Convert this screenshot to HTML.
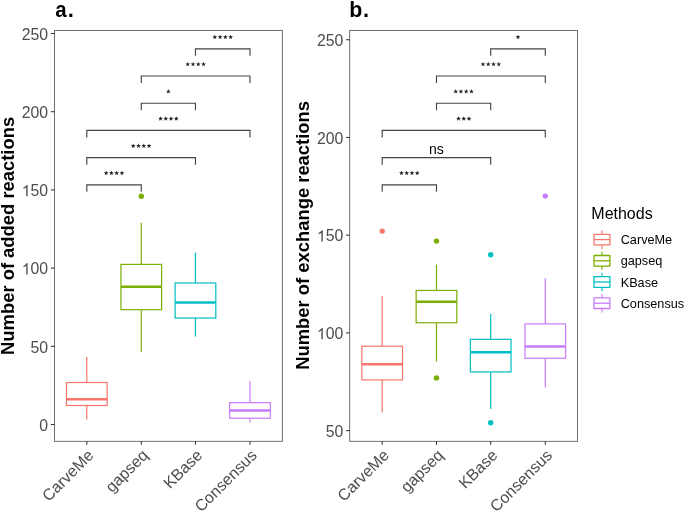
<!DOCTYPE html>
<html><head><meta charset="utf-8"><style>
html,body{margin:0;padding:0;background:#fff;}
svg{display:block;}
text{font-family:"Liberation Sans",sans-serif;}
</style></head><body>
<svg width="685" height="511" viewBox="0 0 685 511">
<rect width="685" height="511" fill="#fff"/>
<line x1="86.80" y1="357.0" x2="86.80" y2="382.5" stroke="#F8766D" stroke-width="1.2"/>
<line x1="86.80" y1="405.5" x2="86.80" y2="419.4" stroke="#F8766D" stroke-width="1.2"/>
<rect x="66.45" y="382.5" width="40.70" height="23.00" fill="#fff" stroke="#F8766D" stroke-width="1.2"/>
<line x1="66.45" y1="399.3" x2="107.15" y2="399.3" stroke="#F8766D" stroke-width="2.5"/>
<line x1="141.28" y1="222.8" x2="141.28" y2="264.4" stroke="#7CAE00" stroke-width="1.2"/>
<line x1="141.28" y1="309.7" x2="141.28" y2="352.2" stroke="#7CAE00" stroke-width="1.2"/>
<rect x="120.93" y="264.4" width="40.70" height="45.30" fill="#fff" stroke="#7CAE00" stroke-width="1.2"/>
<line x1="120.93" y1="286.7" x2="161.63" y2="286.7" stroke="#7CAE00" stroke-width="2.5"/>
<circle cx="141.28" cy="196.2" r="2.7" fill="#7CAE00"/>
<line x1="195.46" y1="252.7" x2="195.46" y2="283.0" stroke="#00BFC4" stroke-width="1.2"/>
<line x1="195.46" y1="318.05" x2="195.46" y2="336.6" stroke="#00BFC4" stroke-width="1.2"/>
<rect x="175.11" y="283.0" width="40.70" height="35.05" fill="#fff" stroke="#00BFC4" stroke-width="1.2"/>
<line x1="175.11" y1="302.4" x2="215.81" y2="302.4" stroke="#00BFC4" stroke-width="2.5"/>
<line x1="249.99" y1="381.2" x2="249.99" y2="402.7" stroke="#C77CFF" stroke-width="1.2"/>
<line x1="249.99" y1="418.2" x2="249.99" y2="422.5" stroke="#C77CFF" stroke-width="1.2"/>
<rect x="229.64" y="402.7" width="40.70" height="15.50" fill="#fff" stroke="#C77CFF" stroke-width="1.2"/>
<line x1="229.64" y1="410.4" x2="270.34" y2="410.4" stroke="#C77CFF" stroke-width="2.5"/>
<path d="M195.46,55.85 V48.8 H249.99 V55.85" fill="none" stroke="#444" stroke-width="1.15"/>
<polygon points="214.84,34.60 215.45,36.25 217.21,36.33 215.83,37.42 216.30,39.12 214.84,38.15 213.37,39.12 213.84,37.42 212.46,36.33 214.22,36.25" fill="#222" stroke-linejoin="round"/>
<polygon points="220.10,34.60 220.71,36.25 222.47,36.33 221.09,37.42 221.56,39.12 220.10,38.15 218.63,39.12 219.10,37.42 217.72,36.33 219.48,36.25" fill="#222" stroke-linejoin="round"/>
<polygon points="225.36,34.60 225.97,36.25 227.73,36.33 226.35,37.42 226.82,39.12 225.36,38.15 223.89,39.12 224.36,37.42 222.98,36.33 224.74,36.25" fill="#222" stroke-linejoin="round"/>
<polygon points="230.62,34.60 231.23,36.25 232.99,36.33 231.61,37.42 232.08,39.12 230.62,38.15 229.15,39.12 229.62,37.42 228.24,36.33 230.00,36.25" fill="#222" stroke-linejoin="round"/>
<path d="M141.28,83.05 V76.0 H249.99 V83.05" fill="none" stroke="#444" stroke-width="1.15"/>
<polygon points="187.75,61.80 188.36,63.45 190.12,63.53 188.74,64.62 189.21,66.32 187.75,65.35 186.28,66.32 186.75,64.62 185.37,63.53 187.13,63.45" fill="#222" stroke-linejoin="round"/>
<polygon points="193.00,61.80 193.62,63.45 195.38,63.53 194.00,64.62 194.47,66.32 193.00,65.35 191.54,66.32 192.01,64.62 190.63,63.53 192.39,63.45" fill="#222" stroke-linejoin="round"/>
<polygon points="198.26,61.80 198.88,63.45 200.64,63.53 199.26,64.62 199.73,66.32 198.26,65.35 196.80,66.32 197.27,64.62 195.89,63.53 197.65,63.45" fill="#222" stroke-linejoin="round"/>
<polygon points="203.52,61.80 204.14,63.45 205.90,63.53 204.52,64.62 204.99,66.32 203.52,65.35 202.06,66.32 202.53,64.62 201.15,63.53 202.91,63.45" fill="#222" stroke-linejoin="round"/>
<path d="M141.28,110.25 V103.2 H195.46 V110.25" fill="none" stroke="#444" stroke-width="1.15"/>
<polygon points="168.37,89.00 168.99,90.65 170.75,90.73 169.37,91.82 169.84,93.52 168.37,92.55 166.90,93.52 167.37,91.82 165.99,90.73 167.75,90.65" fill="#222" stroke-linejoin="round"/>
<path d="M86.80,137.45 V130.4 H249.99 V137.45" fill="none" stroke="#444" stroke-width="1.15"/>
<polygon points="160.51,116.20 161.12,117.85 162.88,117.93 161.50,119.02 161.97,120.72 160.51,119.75 159.04,120.72 159.51,119.02 158.13,117.93 159.89,117.85" fill="#222" stroke-linejoin="round"/>
<polygon points="165.77,116.20 166.38,117.85 168.14,117.93 166.76,119.02 167.23,120.72 165.77,119.75 164.30,120.72 164.77,119.02 163.39,117.93 165.15,117.85" fill="#222" stroke-linejoin="round"/>
<polygon points="171.03,116.20 171.64,117.85 173.40,117.93 172.02,119.02 172.49,120.72 171.03,119.75 169.56,120.72 170.03,119.02 168.65,117.93 170.41,117.85" fill="#222" stroke-linejoin="round"/>
<polygon points="176.28,116.20 176.90,117.85 178.66,117.93 177.28,119.02 177.75,120.72 176.28,119.75 174.82,120.72 175.29,119.02 173.91,117.93 175.67,117.85" fill="#222" stroke-linejoin="round"/>
<path d="M86.80,164.65 V157.6 H195.46 V164.65" fill="none" stroke="#444" stroke-width="1.15"/>
<polygon points="133.24,143.40 133.86,145.05 135.62,145.13 134.24,146.22 134.71,147.92 133.24,146.95 131.77,147.92 132.24,146.22 130.86,145.13 132.62,145.05" fill="#222" stroke-linejoin="round"/>
<polygon points="138.50,143.40 139.12,145.05 140.88,145.13 139.50,146.22 139.97,147.92 138.50,146.95 137.03,147.92 137.50,146.22 136.12,145.13 137.88,145.05" fill="#222" stroke-linejoin="round"/>
<polygon points="143.76,143.40 144.38,145.05 146.14,145.13 144.76,146.22 145.23,147.92 143.76,146.95 142.29,147.92 142.76,146.22 141.38,145.13 143.14,145.05" fill="#222" stroke-linejoin="round"/>
<polygon points="149.02,143.40 149.64,145.05 151.40,145.13 150.02,146.22 150.49,147.92 149.02,146.95 147.55,147.92 148.02,146.22 146.64,145.13 148.40,145.05" fill="#222" stroke-linejoin="round"/>
<path d="M86.80,191.85 V184.8 H141.28 V191.85" fill="none" stroke="#444" stroke-width="1.15"/>
<polygon points="106.15,170.60 106.77,172.25 108.53,172.33 107.15,173.42 107.62,175.12 106.15,174.15 104.68,175.12 105.15,173.42 103.77,172.33 105.53,172.25" fill="#222" stroke-linejoin="round"/>
<polygon points="111.41,170.60 112.03,172.25 113.79,172.33 112.41,173.42 112.88,175.12 111.41,174.15 109.94,175.12 110.41,173.42 109.03,172.33 110.79,172.25" fill="#222" stroke-linejoin="round"/>
<polygon points="116.67,170.60 117.29,172.25 119.05,172.33 117.67,173.42 118.14,175.12 116.67,174.15 115.20,175.12 115.67,173.42 114.29,172.33 116.05,172.25" fill="#222" stroke-linejoin="round"/>
<polygon points="121.93,170.60 122.55,172.25 124.31,172.33 122.93,173.42 123.40,175.12 121.93,174.15 120.46,175.12 120.93,173.42 119.55,172.33 121.31,172.25" fill="#222" stroke-linejoin="round"/>
<rect x="54.5" y="30.5" width="227.90" height="410.85" fill="none" stroke="#707070" stroke-width="1"/>
<line x1="50.90" y1="33.5" x2="54.5" y2="33.5" stroke="#333" stroke-width="1.05"/>
<line x1="50.90" y1="111.7" x2="54.5" y2="111.7" stroke="#333" stroke-width="1.05"/>
<line x1="50.90" y1="189.9" x2="54.5" y2="189.9" stroke="#333" stroke-width="1.05"/>
<line x1="50.90" y1="268.1" x2="54.5" y2="268.1" stroke="#333" stroke-width="1.05"/>
<line x1="50.90" y1="346.3" x2="54.5" y2="346.3" stroke="#333" stroke-width="1.05"/>
<line x1="50.90" y1="424.5" x2="54.5" y2="424.5" stroke="#333" stroke-width="1.05"/>
<line x1="86.80" y1="441.35" x2="86.80" y2="444.75" stroke="#333" stroke-width="1.05"/>
<line x1="141.28" y1="441.35" x2="141.28" y2="444.75" stroke="#333" stroke-width="1.05"/>
<line x1="195.46" y1="441.35" x2="195.46" y2="444.75" stroke="#333" stroke-width="1.05"/>
<line x1="249.99" y1="441.35" x2="249.99" y2="444.75" stroke="#333" stroke-width="1.05"/>
<line x1="382.20" y1="296.1" x2="382.20" y2="346.2" stroke="#F8766D" stroke-width="1.2"/>
<line x1="382.20" y1="379.9" x2="382.20" y2="412.6" stroke="#F8766D" stroke-width="1.2"/>
<rect x="361.86" y="346.2" width="40.68" height="33.70" fill="#fff" stroke="#F8766D" stroke-width="1.2"/>
<line x1="361.86" y1="364.3" x2="402.54" y2="364.3" stroke="#F8766D" stroke-width="2.5"/>
<circle cx="382.20" cy="231.1" r="2.7" fill="#F8766D"/>
<line x1="436.48" y1="264.6" x2="436.48" y2="290.46" stroke="#7CAE00" stroke-width="1.2"/>
<line x1="436.48" y1="322.76" x2="436.48" y2="361.5" stroke="#7CAE00" stroke-width="1.2"/>
<rect x="416.14" y="290.46" width="40.68" height="32.30" fill="#fff" stroke="#7CAE00" stroke-width="1.2"/>
<line x1="416.14" y1="301.66" x2="456.82" y2="301.66" stroke="#7CAE00" stroke-width="2.5"/>
<circle cx="436.48" cy="241.1" r="2.7" fill="#7CAE00"/>
<circle cx="436.48" cy="377.9" r="2.7" fill="#7CAE00"/>
<line x1="490.70" y1="313.7" x2="490.70" y2="339.34" stroke="#00BFC4" stroke-width="1.2"/>
<line x1="490.70" y1="371.9" x2="490.70" y2="409.0" stroke="#00BFC4" stroke-width="1.2"/>
<rect x="470.36" y="339.34" width="40.68" height="32.56" fill="#fff" stroke="#00BFC4" stroke-width="1.2"/>
<line x1="470.36" y1="352.35" x2="511.04" y2="352.35" stroke="#00BFC4" stroke-width="2.5"/>
<circle cx="490.70" cy="254.7" r="2.7" fill="#00BFC4"/>
<circle cx="490.70" cy="422.8" r="2.7" fill="#00BFC4"/>
<line x1="545.28" y1="278.2" x2="545.28" y2="323.86" stroke="#C77CFF" stroke-width="1.2"/>
<line x1="545.28" y1="358.3" x2="545.28" y2="387.6" stroke="#C77CFF" stroke-width="1.2"/>
<rect x="524.94" y="323.86" width="40.68" height="34.44" fill="#fff" stroke="#C77CFF" stroke-width="1.2"/>
<line x1="524.94" y1="346.4" x2="565.62" y2="346.4" stroke="#C77CFF" stroke-width="2.5"/>
<circle cx="545.28" cy="196.1" r="2.7" fill="#C77CFF"/>
<path d="M490.70,55.85 V48.8 H545.28 V55.85" fill="none" stroke="#444" stroke-width="1.15"/>
<polygon points="517.99,34.60 518.61,36.25 520.37,36.33 518.99,37.42 519.46,39.12 517.99,38.15 516.52,39.12 516.99,37.42 515.61,36.33 517.37,36.25" fill="#222" stroke-linejoin="round"/>
<path d="M436.48,83.05 V76.0 H545.28 V83.05" fill="none" stroke="#444" stroke-width="1.15"/>
<polygon points="482.99,61.80 483.61,63.45 485.37,63.53 483.99,64.62 484.46,66.32 482.99,65.35 481.52,66.32 481.99,64.62 480.61,63.53 482.37,63.45" fill="#222" stroke-linejoin="round"/>
<polygon points="488.25,61.80 488.87,63.45 490.63,63.53 489.25,64.62 489.72,66.32 488.25,65.35 486.78,66.32 487.25,64.62 485.87,63.53 487.63,63.45" fill="#222" stroke-linejoin="round"/>
<polygon points="493.51,61.80 494.13,63.45 495.89,63.53 494.51,64.62 494.98,66.32 493.51,65.35 492.04,66.32 492.51,64.62 491.13,63.53 492.89,63.45" fill="#222" stroke-linejoin="round"/>
<polygon points="498.77,61.80 499.39,63.45 501.15,63.53 499.77,64.62 500.24,66.32 498.77,65.35 497.30,66.32 497.77,64.62 496.39,63.53 498.15,63.45" fill="#222" stroke-linejoin="round"/>
<path d="M436.48,110.25 V103.2 H490.70 V110.25" fill="none" stroke="#444" stroke-width="1.15"/>
<polygon points="455.70,89.00 456.32,90.65 458.08,90.73 456.70,91.82 457.17,93.52 455.70,92.55 454.23,93.52 454.70,91.82 453.32,90.73 455.08,90.65" fill="#222" stroke-linejoin="round"/>
<polygon points="460.96,89.00 461.58,90.65 463.34,90.73 461.96,91.82 462.43,93.52 460.96,92.55 459.49,93.52 459.96,91.82 458.58,90.73 460.34,90.65" fill="#222" stroke-linejoin="round"/>
<polygon points="466.22,89.00 466.84,90.65 468.60,90.73 467.22,91.82 467.69,93.52 466.22,92.55 464.75,93.52 465.22,91.82 463.84,90.73 465.60,90.65" fill="#222" stroke-linejoin="round"/>
<polygon points="471.48,89.00 472.10,90.65 473.86,90.73 472.48,91.82 472.95,93.52 471.48,92.55 470.01,93.52 470.48,91.82 469.10,90.73 470.86,90.65" fill="#222" stroke-linejoin="round"/>
<path d="M382.20,137.45 V130.4 H545.28 V137.45" fill="none" stroke="#444" stroke-width="1.15"/>
<polygon points="458.48,116.20 459.10,117.85 460.86,117.93 459.48,119.02 459.95,120.72 458.48,119.75 457.01,120.72 457.48,119.02 456.10,117.93 457.86,117.85" fill="#222" stroke-linejoin="round"/>
<polygon points="463.74,116.20 464.36,117.85 466.12,117.93 464.74,119.02 465.21,120.72 463.74,119.75 462.27,120.72 462.74,119.02 461.36,117.93 463.12,117.85" fill="#222" stroke-linejoin="round"/>
<polygon points="469.00,116.20 469.62,117.85 471.38,117.93 470.00,119.02 470.47,120.72 469.00,119.75 467.53,120.72 468.00,119.02 466.62,117.93 468.38,117.85" fill="#222" stroke-linejoin="round"/>
<path d="M382.20,164.65 V157.6 H490.70 V164.65" fill="none" stroke="#444" stroke-width="1.15"/>
<path d="M382.20,191.85 V184.8 H436.48 V191.85" fill="none" stroke="#444" stroke-width="1.15"/>
<polygon points="401.45,170.60 402.07,172.25 403.83,172.33 402.45,173.42 402.92,175.12 401.45,174.15 399.98,175.12 400.45,173.42 399.07,172.33 400.83,172.25" fill="#222" stroke-linejoin="round"/>
<polygon points="406.71,170.60 407.33,172.25 409.09,172.33 407.71,173.42 408.18,175.12 406.71,174.15 405.24,175.12 405.71,173.42 404.33,172.33 406.09,172.25" fill="#222" stroke-linejoin="round"/>
<polygon points="411.97,170.60 412.59,172.25 414.35,172.33 412.97,173.42 413.44,175.12 411.97,174.15 410.50,175.12 410.97,173.42 409.59,172.33 411.35,172.25" fill="#222" stroke-linejoin="round"/>
<polygon points="417.23,170.60 417.85,172.25 419.61,172.33 418.23,173.42 418.70,175.12 417.23,174.15 415.76,175.12 416.23,173.42 414.85,172.33 416.61,172.25" fill="#222" stroke-linejoin="round"/>
<rect x="349.67" y="30.5" width="227.83" height="410.85" fill="none" stroke="#707070" stroke-width="1"/>
<line x1="346.07" y1="39.71" x2="349.67" y2="39.71" stroke="#333" stroke-width="1.05"/>
<line x1="346.07" y1="137.44" x2="349.67" y2="137.44" stroke="#333" stroke-width="1.05"/>
<line x1="346.07" y1="235.17" x2="349.67" y2="235.17" stroke="#333" stroke-width="1.05"/>
<line x1="346.07" y1="332.9" x2="349.67" y2="332.9" stroke="#333" stroke-width="1.05"/>
<line x1="346.07" y1="430.64" x2="349.67" y2="430.64" stroke="#333" stroke-width="1.05"/>
<line x1="382.20" y1="441.35" x2="382.20" y2="444.75" stroke="#333" stroke-width="1.05"/>
<line x1="436.48" y1="441.35" x2="436.48" y2="444.75" stroke="#333" stroke-width="1.05"/>
<line x1="490.70" y1="441.35" x2="490.70" y2="444.75" stroke="#333" stroke-width="1.05"/>
<line x1="545.28" y1="441.35" x2="545.28" y2="444.75" stroke="#333" stroke-width="1.05"/>
<line x1="601.95" y1="230.30" x2="601.95" y2="248.90" stroke="#F8766D" stroke-width="1.1"/>
<rect x="594.0" y="234.30" width="15.90" height="10.6" fill="#fff" stroke="#F8766D" stroke-width="1.3" stroke-linejoin="round"/>
<line x1="594.0" y1="239.6" x2="609.9" y2="239.6" stroke="#F8766D" stroke-width="1.3"/>
<line x1="601.95" y1="251.50" x2="601.95" y2="270.10" stroke="#7CAE00" stroke-width="1.1"/>
<rect x="594.0" y="255.50" width="15.90" height="10.6" fill="#fff" stroke="#7CAE00" stroke-width="1.3" stroke-linejoin="round"/>
<line x1="594.0" y1="260.8" x2="609.9" y2="260.8" stroke="#7CAE00" stroke-width="1.3"/>
<line x1="601.95" y1="272.70" x2="601.95" y2="291.30" stroke="#00BFC4" stroke-width="1.1"/>
<rect x="594.0" y="276.70" width="15.90" height="10.6" fill="#fff" stroke="#00BFC4" stroke-width="1.3" stroke-linejoin="round"/>
<line x1="594.0" y1="282.0" x2="609.9" y2="282.0" stroke="#00BFC4" stroke-width="1.3"/>
<line x1="601.95" y1="293.90" x2="601.95" y2="312.50" stroke="#C77CFF" stroke-width="1.1"/>
<rect x="594.0" y="297.90" width="15.90" height="10.6" fill="#fff" stroke="#C77CFF" stroke-width="1.3" stroke-linejoin="round"/>
<line x1="594.0" y1="303.2" x2="609.9" y2="303.2" stroke="#C77CFF" stroke-width="1.3"/>
<g opacity="0.999">
<text x="48.10" y="39.80" text-anchor="end" font-size="15.8" fill="#4D4D4D">250</text>
<text x="48.10" y="118.00" text-anchor="end" font-size="15.8" fill="#4D4D4D">200</text>
<path transform="translate(21.74,196.20) scale(0.00771,-0.00771)" d="M763,0 L583,0 L583,1147 C540,1106 483,1065 413,1024 C342,983 279,952 223,931 L223,1105 C324,1152 412,1210 487,1277 C562,1344 615,1407 646,1466 L763,1466 Z" fill="#4D4D4D"/><text x="48.10" y="196.20" text-anchor="end" font-size="15.8" fill="#4D4D4D">50</text>
<path transform="translate(21.74,274.40) scale(0.00771,-0.00771)" d="M763,0 L583,0 L583,1147 C540,1106 483,1065 413,1024 C342,983 279,952 223,931 L223,1105 C324,1152 412,1210 487,1277 C562,1344 615,1407 646,1466 L763,1466 Z" fill="#4D4D4D"/><text x="48.10" y="274.40" text-anchor="end" font-size="15.8" fill="#4D4D4D">00</text>
<text x="48.10" y="352.60" text-anchor="end" font-size="15.8" fill="#4D4D4D">50</text>
<text x="48.10" y="430.80" text-anchor="end" font-size="15.8" fill="#4D4D4D">0</text>
<text transform="translate(94.60,456.25) rotate(-45)" text-anchor="end" font-size="16.0" fill="#4D4D4D">CarveMe</text>
<text transform="translate(149.08,456.25) rotate(-45)" text-anchor="end" font-size="16.0" fill="#4D4D4D">gapseq</text>
<text transform="translate(203.26,456.25) rotate(-45)" text-anchor="end" font-size="16.0" fill="#4D4D4D">KBase</text>
<text transform="translate(257.79,456.25) rotate(-45)" text-anchor="end" font-size="16.0" fill="#4D4D4D">Consensus</text>
<text transform="translate(14.0,235.9) rotate(-90)" text-anchor="middle" font-size="18.4" font-weight="bold" fill="#000">Number of added reactions</text>
<text transform="translate(55.2,17.1) scale(0.93,1)" font-size="22" font-weight="bold" fill="#000">a</text>
<text x="67.7" y="17.1" font-size="22" font-weight="bold" fill="#000">.</text>
<text x="436.45" y="153.90" text-anchor="middle" font-size="14" fill="#000">ns</text>
<text x="343.27" y="46.01" text-anchor="end" font-size="15.8" fill="#4D4D4D">250</text>
<text x="343.27" y="143.74" text-anchor="end" font-size="15.8" fill="#4D4D4D">200</text>
<path transform="translate(316.91,241.47) scale(0.00771,-0.00771)" d="M763,0 L583,0 L583,1147 C540,1106 483,1065 413,1024 C342,983 279,952 223,931 L223,1105 C324,1152 412,1210 487,1277 C562,1344 615,1407 646,1466 L763,1466 Z" fill="#4D4D4D"/><text x="343.27" y="241.47" text-anchor="end" font-size="15.8" fill="#4D4D4D">50</text>
<path transform="translate(316.91,339.20) scale(0.00771,-0.00771)" d="M763,0 L583,0 L583,1147 C540,1106 483,1065 413,1024 C342,983 279,952 223,931 L223,1105 C324,1152 412,1210 487,1277 C562,1344 615,1407 646,1466 L763,1466 Z" fill="#4D4D4D"/><text x="343.27" y="339.20" text-anchor="end" font-size="15.8" fill="#4D4D4D">00</text>
<text x="343.27" y="436.94" text-anchor="end" font-size="15.8" fill="#4D4D4D">50</text>
<text transform="translate(390.00,456.25) rotate(-45)" text-anchor="end" font-size="16.0" fill="#4D4D4D">CarveMe</text>
<text transform="translate(444.28,456.25) rotate(-45)" text-anchor="end" font-size="16.0" fill="#4D4D4D">gapseq</text>
<text transform="translate(498.50,456.25) rotate(-45)" text-anchor="end" font-size="16.0" fill="#4D4D4D">KBase</text>
<text transform="translate(553.08,456.25) rotate(-45)" text-anchor="end" font-size="16.0" fill="#4D4D4D">Consensus</text>
<text transform="translate(309.3,235.4) rotate(-90)" text-anchor="middle" font-size="18.4" font-weight="bold" fill="#000">Number of exchange reactions</text>
<text transform="translate(349.3,17.1) scale(0.97,1)" font-size="22" font-weight="bold" fill="#000">b</text>
<text x="362.90000000000003" y="17.1" font-size="22" font-weight="bold" fill="#000">.</text>
<text x="591.3" y="219" font-size="16" fill="#000">Methods</text>
<text x="620.7" y="244.20" font-size="12.7" fill="#000">CarveMe</text>
<text x="620.7" y="265.40" font-size="12.7" fill="#000">gapseq</text>
<text x="620.7" y="286.60" font-size="12.7" fill="#000">KBase</text>
<text x="620.7" y="307.80" font-size="12.7" fill="#000">Consensus</text>
</g>
</svg>
</body></html>
